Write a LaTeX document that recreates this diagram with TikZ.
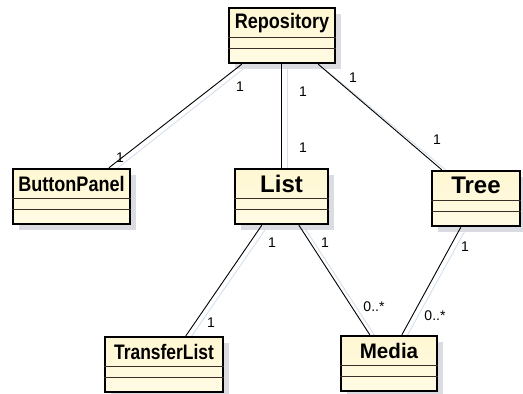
\documentclass[tikz,border=0pt]{standalone}
\usepackage{fontspec}
\setmainfont{Liberation Sans}
\usetikzlibrary{calc}

\definecolor{classfill}{RGB}{255,251,228}
\definecolor{classfilltop}{RGB}{255,247,210}
\definecolor{shadowgray}{RGB}{218,220,226}
\definecolor{linkshadow}{RGB}{212,224,236}
\definecolor{compline}{RGB}{60,45,40}

\tikzset{
  classbox/.style={draw=black, line width=2.3pt, rectangle, inner sep=0pt,
    top color=classfilltop, bottom color=classfill,
    minimum width=#1, minimum height=55pt},
  classbox/.default=100pt,
  boxshadow/.style={fill=shadowgray, draw=none},
  compartment/.style={draw=compline, line width=1.1pt},
  cname/.style={font=\bfseries\fontsize{21}{21}\selectfont, inner sep=0pt},
  cnamebig/.style={font=\bfseries\fontsize{24}{24}\selectfont, inner sep=0pt},
  assoc/.style={draw=black, line width=0.9pt},
  assocshadow/.style={draw=linkshadow, line width=0.9pt},
  mult/.style={font=\fontsize{14}{14}\selectfont, inner sep=0pt}
}

% one class: name, centre, width, title style, title text
\newcommand{\umlclass}[5]{%
  \fill[boxshadow] ($(#2)+(-#3/2+6,-27.5+6)$) rectangle ($(#2)+(#3/2+6,27.5+6)$);
  \node[classbox=#3pt] (#1) at (#2) {};
  \draw[compartment] ([yshift=-31pt]#1.north west) -- ([yshift=-31pt]#1.north east);
  \draw[compartment] ([yshift=-42pt]#1.north west) -- ([yshift=-42pt]#1.north east);
  \node[#4] (#1-name) at ([yshift=-16pt]#1.north) {#5};
}

\begin{document}
\begin{tikzpicture}[x=1pt,y=-1pt]
\useasboundingbox[fill=white] (0,0) rectangle (523,394);

% association shadows
\draw[assocshadow] (247,66) -- (114,171);
\draw[assocshadow] (287,66) -- (287,169);
\draw[assocshadow] (321,66) -- (447,171);
\draw[assocshadow] (267,227) -- (191,337);
\draw[assocshadow] (304,227) -- (375,336);
\draw[assocshadow] (466,229) -- (407,336);

% classes
\umlclass{repo}{282,35.5}{106}{cname}{\scalebox{0.86}[1]{Repository}}
\umlclass{bp}{71.5,196.5}{117}{cname}{\scalebox{0.86}[1]{ButtonPanel}}
\umlclass{list}{281.5,196.5}{93}{cnamebig}{List}
\umlclass{tree}{476,198.5}{88}{cnamebig}{Tree}
\umlclass{tl}{164,364.5}{118}{cname}{\scalebox{0.83}[1]{TransferList}}
\umlclass{media}{389,363.5}{96}{cname}{\scalebox{0.98}[1]{Media}}

% associations
\draw[assoc] ([xshift=14pt]repo.south west) -- ([xshift=97pt]bp.north west);
\draw[assoc] ([xshift=54pt]repo.south west) -- ([xshift=48pt]list.north west);
\draw[assoc] ([xshift=-18pt]repo.south east) -- ([xshift=11pt]tree.north west);
\draw[assoc] ([xshift=28pt]list.south west) -- ([xshift=82pt]tl.north west);
\draw[assoc] ([xshift=65pt]list.south west) -- ([xshift=30pt]media.north west);
\draw[assoc] ([xshift=30pt]tree.south west) -- ([xshift=62pt]media.north west);

% multiplicities
\node[mult] (m1) at (240,87) {1};
\node[mult] (m2) at (120,158) {1};
\node[mult] (m3) at (303,92) {1};
\node[mult] (m4) at (303,148) {1};
\node[mult] (m5) at (353,78) {1};
\node[mult] (m6) at (437,140) {1};
\node[mult] (m7) at (272,243) {1};
\node[mult] (m8) at (211,323) {1};
\node[mult] (m9) at (325,243) {1};
\node[mult] (m10) at (374,307) {0..*};
\node[mult] (m11) at (465,247) {1};
\node[mult] (m12) at (435,316) {0..*};
\end{tikzpicture}
\end{document}
